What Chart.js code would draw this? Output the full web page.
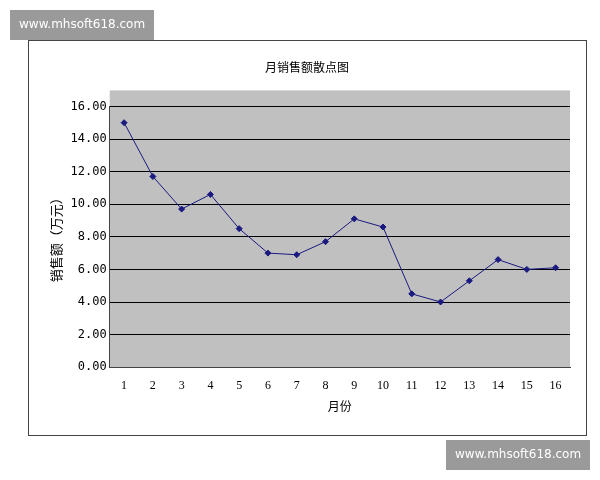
<!DOCTYPE html>
<html><head><meta charset="utf-8">
<script src="https://cdn.jsdelivr.net/npm/chart.js@4/dist/chart.umd.min.js"></script>
<style>body{margin:0;background:#fff}#box{position:relative;width:600px;height:480px}</style>
</head><body><div id="box"><canvas id="c" width="600" height="480"></canvas></div>
<script>
// 月份与销售额
const months = ['1','2','3','4','5','6','7','8','9','10','11','12','13','14','15','16'];
const sales = [15.0, 11.7, 9.7, 10.6, 8.5, 7.0, 6.9, 7.7, 9.1, 8.6, 4.5, 4.0, 5.3, 6.6, 6.0, 6.1];

// 背景、边框和水印
const decor = {
  id: 'decor',
  beforeDraw(chart) {
    const c = chart.ctx, a = chart.chartArea;
    c.save();
    c.fillStyle = '#c0c0c0';
    c.fillRect(a.left, a.top - 16, a.right - a.left, a.bottom - a.top + 16);
    c.strokeStyle = '#444';
    c.lineWidth = 1;
    c.strokeRect(28.5, 40.5, 558, 395);
    c.restore();
  },
  afterDraw(chart) {
    const c = chart.ctx;
    c.save();
    c.fillStyle = '#9a9a9a';
    c.fillRect(10, 10, 144, 30);
    c.fillRect(446, 440, 144, 30);
    c.fillStyle = '#fff';
    c.font = '12px "DejaVu Sans"';
    c.textBaseline = 'middle';
    c.fillText('www.mhsoft618.com', 19, 25);
    c.fillText('www.mhsoft618.com', 455, 455);
    c.restore();
  }
};

new Chart(document.getElementById('c'), {
  type: 'line',
  data: {
    labels: months,
    datasets: [{
      data: sales,
      borderColor: '#1a1a80',
      backgroundColor: '#1a1a80',
      borderWidth: 1,
      pointStyle: 'rectRot',
      pointRadius: 3,
      tension: 0
    }]
  },
  options: {
    responsive: false,
    animation: false,
    layout: { padding: { left: 44, right: 30, top: 60, bottom: 62 } },
    plugins: {
      legend: { display: false },
      tooltip: { enabled: false },
      title: {
        display: true,
        text: '月销售额散点图',
        font: { family: '"Noto Sans CJK SC"', size: 12, weight: 'normal' },
        color: '#000',
        padding: { top: 0, bottom: 32 }
      }
    },
    scales: {
      x: {
        offset: true,
        grid: { display: false },
        border: { color: '#444' },
        ticks: { color: '#000', font: { family: '"Liberation Serif"', size: 12 } },
        title: { display: true, text: '月份', color: '#000', font: { family: '"Noto Sans CJK SC"', size: 12 } }
      },
      y: {
        min: 0, max: 16,
        ticks: { stepSize: 2, color: '#000', callback: v => v.toFixed(2), font: { family: '"DejaVu Sans Mono"', size: 12 } },
        grid: { color: '#000', drawTicks: false },
        border: { color: '#444' },
        title: { display: true, text: '销售额（万元）', color: '#000', font: { family: '"Noto Sans CJK SC"', size: 13 } }
      }
    }
  },
  plugins: [decor]
});
</script></body></html>
